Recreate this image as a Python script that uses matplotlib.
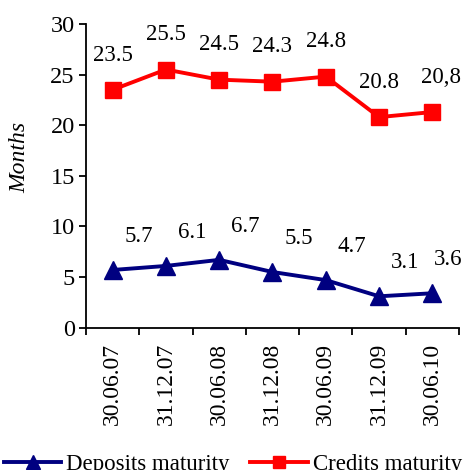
import matplotlib
matplotlib.use("Agg")
import matplotlib.pyplot as plt

plt.rcParams['font.family'] = ['Liberation Serif', 'DejaVu Serif']

dates = ['30.06.07', '31.12.07', '30.06.08', '31.12.08', '30.06.09', '31.12.09', '30.06.10']
deposits = [5.7, 6.1, 6.7, 5.5, 4.7, 3.1, 3.4]
credits = [23.5, 25.5, 24.5, 24.3, 24.8, 20.8, 21.3]
deposit_labels = ['5.7', '6.1', '6.7', '5.5', '4.7', '3.1', '3.6']
credit_labels = ['23.5', '25.5', '24.5', '24.3', '24.8', '20.8', '20,8']

fig = plt.figure(figsize=(4.66, 4.70), dpi=100)
ax = fig.add_axes([0.1845, 0.3028, 0.8005, 0.6462])

x = list(range(len(dates)))
ax.plot(x, deposits, color='#000080', lw=2.8, marker='^', ms=13,
        label='Deposits maturity')
ax.plot(x, credits, color='#ff0000', lw=2.8, marker='s', ms=11.5,
        label='Credits maturity')

# etiquetas de datos
for i, t in enumerate(deposit_labels):
    dx = 19 if i < len(x) - 1 else 11
    ax.annotate(t, (x[i], deposits[i]), xytext=(dx, 24), textcoords='offset points',
                ha='center', va='center', fontsize=16.5)
for i, t in enumerate(credit_labels):
    dx = 0 if i < len(x) - 1 else 6
    ax.annotate(t, (x[i], credits[i]), xytext=(dx, 25), textcoords='offset points',
                ha='center', va='center', fontsize=16.5)

ax.set_xlim(-0.5, len(dates) - 0.5)
ax.set_ylim(0, 30)
ax.set_yticks(range(0, 31, 5))
ax.tick_params(axis='y', direction='out', length=5, width=1.3, labelsize=17.5, pad=3)

ax.set_xticks([i - 0.5 for i in range(len(dates) + 1)])
ax.set_xticklabels([])
ax.set_xticks(x, minor=True)
ax.set_xticklabels(dates, minor=True, rotation=90, fontsize=17)
ax.tick_params(axis='x', which='major', direction='out', length=5, width=1.3)
ax.tick_params(axis='x', which='minor', length=0, pad=11)

for s in ['top', 'right']:
    ax.spines[s].set_visible(False)
for s in ['left', 'bottom']:
    ax.spines[s].set_linewidth(1.3)

ax.set_ylabel('Months', fontsize=17, style='italic')
ax.yaxis.set_label_coords(-0.15, 0.56)

fig.legend(loc='center', bbox_to_anchor=(0.5, 0.012), ncol=2, frameon=False,
           fontsize=16.5, handlelength=2.5, handletextpad=0.22, columnspacing=0.9,
           markerscale=0.75, borderpad=0, borderaxespad=0)

fig.savefig('out.png', dpi=100)
